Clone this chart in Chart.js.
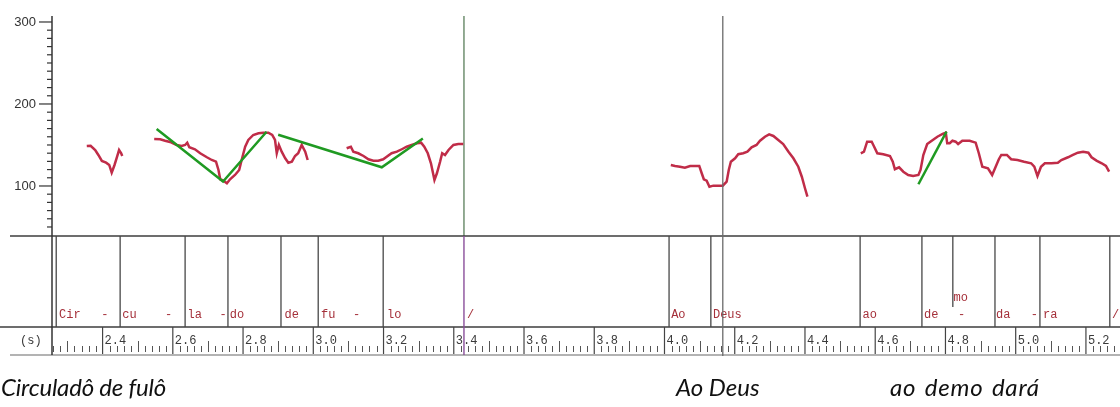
<!DOCTYPE html>
<html>
<head>
<meta charset="utf-8">
<script src="https://cdn.jsdelivr.net/npm/chart.js@4.4.1/dist/chart.umd.min.js"></script>
<style>
  html, body { margin: 0; padding: 0; background: #fff; }
  #wrap { position: relative; width: 1120px; height: 407px; overflow: hidden; }
  #c { position: absolute; left: 0; top: 0; }
  .cap { position: absolute; font-family: Lato, "Open Sans", sans-serif; font-style: italic;
         font-size: 24px; line-height: 1; color: #111; white-space: nowrap; }
</style>
</head>
<body>
<div id="wrap">
  <canvas id="c" width="1120" height="407"></canvas>
  <div class="cap" style="left:1px; top:375px; letter-spacing:-0.2px;">Circuladô de fulô</div>
  <div class="cap" style="left:676px; top:375px;">Ao Deus</div>
  <div class="cap" style="left:890px; top:375px; letter-spacing:0.8px; word-spacing:2px;">ao demo dará</div>
</div>
<script>
// Time window (s) and pitch range (Hz) of the panel
const X_MIN = 2.256, X_MAX = 5.297;
const HZ_MIN = 39, HZ_MAX = 307.3;

// Axis labels
const hzLabels = [100, 200, 300];
const timeLabels = ['2.4', '2.6', '2.8', '3.0', '3.2', '3.4', '3.6', '3.8', '4.0', '4.2', '4.4', '4.6', '4.8', '5.0', '5.2'];

// F0 contour pieces: [time s, Hz]
const f0Cir = [[2.355,148.8],[2.366,149.1],[2.379,143.9],[2.388,137.8],[2.398,130.5],[2.410,128.4],[2.419,125.6],
  [2.426,116.2],[2.434,125.6],[2.442,136.6],[2.447,143.9],[2.453,139.9],[2.456,136.6]];
const f0CuLaDoDe = [[2.547,157.3],[2.564,157.0],[2.578,155.2],[2.592,153.7],[2.611,150.0],[2.625,148.8],[2.635,150.0],
  [2.641,152.8],[2.647,147.2],[2.663,144.8],[2.678,139.9],[2.697,135.0],[2.711,131.7],[2.723,129.6],[2.730,119.5],
  [2.735,108.2],[2.744,106.5],[2.754,103.3],[2.763,108.2],[2.777,113.4],[2.789,119.5],[2.796,131.7],[2.806,147.9],
  [2.815,156.1],[2.829,162.2],[2.844,164.3],[2.858,165.0],[2.872,165.0],[2.883,162.2],[2.891,156.1],[2.896,139.9],
  [2.902,150.0],[2.910,141.8],[2.920,133.8],[2.929,128.4],[2.939,129.6],[2.948,136.6],[2.957,139.9],[2.967,150.0],
  [2.977,141.8],[2.984,131.7]];
const f0FuLo = [[3.095,146.0],[3.107,147.9],[3.114,141.8],[3.128,139.9],[3.143,136.6],[3.157,132.6],[3.171,130.9],
  [3.185,130.9],[3.199,132.6],[3.209,135.7],[3.223,139.9],[3.238,141.8],[3.252,144.8],[3.266,147.9],[3.280,150.0],
  [3.295,152.1],[3.307,152.8],[3.316,147.9],[3.326,139.9],[3.335,127.7],[3.345,107.3],[3.352,115.5],[3.361,129.6],
  [3.367,139.9],[3.375,137.8],[3.385,143.9],[3.399,150.0],[3.413,151.2],[3.427,151.2]];
const f0AoDeus = [[4.018,125.6],[4.030,124.4],[4.044,123.5],[4.058,122.3],[4.073,124.4],[4.087,124.4],[4.099,124.4],
  [4.106,115.5],[4.112,108.2],[4.120,106.5],[4.128,99.1],[4.139,100.4],[4.153,100.4],[4.166,100.4],[4.177,105.2],
  [4.183,119.5],[4.189,129.6],[4.201,133.8],[4.210,138.7],[4.224,139.9],[4.236,141.8],[4.248,147.2],[4.262,150.0],
  [4.272,155.2],[4.286,160.1],[4.298,163.0],[4.310,161.0],[4.324,156.1],[4.338,151.2],[4.353,141.8],[4.367,133.8],
  [4.381,123.5],[4.391,111.3],[4.400,97.2],[4.407,87.0]];
const f0AoDemoDara = [[4.559,139.9],[4.568,141.8],[4.577,154.0],[4.590,154.0],[4.596,148.8],[4.606,139.9],[4.623,138.7],
  [4.642,136.6],[4.650,129.6],[4.656,120.4],[4.668,122.8],[4.680,117.4],[4.694,113.4],[4.708,112.2],[4.723,113.4],
  [4.729,119.5],[4.737,137.8],[4.748,151.2],[4.761,155.2],[4.777,160.1],[4.792,163.4],[4.801,165.0],[4.805,152.1],
  [4.812,152.1],[4.820,155.2],[4.829,154.0],[4.836,151.2],[4.848,155.2],[4.869,155.2],[4.886,152.8],[4.895,139.9],
  [4.905,123.5],[4.921,121.6],[4.933,113.4],[4.943,123.5],[4.952,132.6],[4.959,137.8],[4.975,137.8],[4.987,132.6],
  [5.005,131.7],[5.024,129.6],[5.044,127.7],[5.053,123.5],[5.062,112.2],[5.072,123.5],[5.083,127.7],[5.102,127.7],
  [5.120,128.4],[5.130,131.7],[5.149,135.0],[5.163,137.8],[5.177,140.6],[5.192,141.8],[5.207,140.6],[5.216,135.0],
  [5.230,130.9],[5.245,127.7],[5.257,124.4],[5.266,117.4]];

// Stylised melodic movements
const styleCuLaDo = [[2.554,169.5],[2.743,105.5],[2.867,166.2]];
const styleDeFuLo = [[2.900,162.4],[3.195,122.8],[3.312,157.8]];
const styleDemo = [[4.723,102.1],[4.803,166.2]];

// Syllable tier
const tierBounds = [2.268, 2.450, 2.635, 2.757, 2.908, 3.014, 3.199, 4.013, 4.132, 4.557, 4.733, 4.941, 5.069, 5.268];
const selectedBound = 3.429;
const shortBound = 4.821;
const cursorTime = 4.166;
const tierTexts = [[2.276,'Cir'],[2.396,'-'],[2.456,'cu'],[2.578,'-'],[2.642,'la'],[2.733,'-'],[2.762,'do'],
  [2.918,'de'],[3.022,'fu'],[3.113,'-'],[3.210,'lo'],[3.438,'/'],[4.019,'Ao'],[4.138,'Deus'],[4.564,'ao'],
  [4.739,'de'],[4.836,'-'],[4.944,'da'],[5.043,'-'],[5.078,'ra'],[5.274,'/']];
const raisedTexts = [[4.823,'mo']];

const toXY = arr => arr.map(([x, y]) => ({ x, y }));
const contour = (data) => ({ data: toXY(data), borderColor: '#c02c48', borderWidth: 2.5, pointRadius: 0,
  fill: false, tension: 0, order: 1 });
const stylised = (data) => ({ data: toXY(data), borderColor: '#1f9a22', borderWidth: 2.5, pointRadius: 0,
  fill: false, tension: 0, order: 0 });

const PANEL_BOTTOM = 236, TIER_BOTTOM = 327, RULER_BOTTOM = 355;

const praatFrame = {
  id: 'praatFrame',
  beforeDatasetsDraw(chart) {
    const { ctx, chartArea, scales: { x } } = chart;
    ctx.save();
    ctx.strokeStyle = '#6f8f70';
    ctx.lineWidth = 1.5;
    const px = x.getPixelForValue(selectedBound);
    ctx.beginPath(); ctx.moveTo(px, chartArea.top); ctx.lineTo(px, PANEL_BOTTOM); ctx.stroke();
    ctx.restore();
  },
  afterDatasetsDraw(chart) {
    const { ctx, chartArea, scales: { x, y } } = chart;
    ctx.save();
    // frame lines
    ctx.strokeStyle = '#3c3c3c';
    ctx.lineWidth = 1.5;
    ctx.beginPath(); ctx.moveTo(10, PANEL_BOTTOM); ctx.lineTo(1120, PANEL_BOTTOM); ctx.stroke();
    ctx.beginPath(); ctx.moveTo(0, TIER_BOTTOM); ctx.lineTo(1120, TIER_BOTTOM); ctx.stroke();
    ctx.strokeStyle = '#9a9a9a';
    ctx.beginPath(); ctx.moveTo(10, RULER_BOTTOM); ctx.lineTo(1120, RULER_BOTTOM); ctx.stroke();
    ctx.strokeStyle = '#333';
    ctx.beginPath(); ctx.moveTo(chartArea.left, chartArea.top); ctx.lineTo(chartArea.left, RULER_BOTTOM); ctx.stroke();

    // Hz tick marks
    ctx.lineWidth = 1.2;
    for (let v = 50; v <= 300; v += 10) {
      const py = y.getPixelForValue(v);
      const major = hzLabels.includes(v);
      ctx.beginPath(); ctx.moveTo(major ? 39 : 47, py); ctx.lineTo(chartArea.left, py); ctx.stroke();
    }

    // tier boundaries
    ctx.strokeStyle = '#474747';
    ctx.lineWidth = 1.3;
    tierBounds.forEach(t => {
      const px = x.getPixelForValue(t);
      ctx.beginPath(); ctx.moveTo(px, PANEL_BOTTOM); ctx.lineTo(px, TIER_BOTTOM); ctx.stroke();
    });
    const sx = x.getPixelForValue(shortBound);
    ctx.beginPath(); ctx.moveTo(sx, PANEL_BOTTOM); ctx.lineTo(sx, 307); ctx.stroke();

    // tier labels
    ctx.font = '12px "Liberation Mono", monospace';
    ctx.fillStyle = '#a5303a';
    ctx.textAlign = 'left';
    ctx.textBaseline = 'alphabetic';
    tierTexts.forEach(([t, s]) => ctx.fillText(s, x.getPixelForValue(t), 318));
    raisedTexts.forEach(([t, s]) => ctx.fillText(s, x.getPixelForValue(t), 301));

    // time ruler
    ctx.strokeStyle = '#555';
    ctx.lineWidth = 1;
    const i0 = Math.ceil(X_MIN / 0.02), i1 = Math.floor(X_MAX / 0.02);
    for (let i = i0; i <= i1; i++) {
      if (i % 10 === 0) continue;
      const px = Math.round(x.getPixelForValue(i * 0.02)) + 0.5;
      ctx.beginPath(); ctx.moveTo(px, i % 5 === 0 ? 341 : 346); ctx.lineTo(px, 352); ctx.stroke();
    }
    ctx.strokeStyle = '#444';
    ctx.lineWidth = 1.2;
    ctx.fillStyle = '#3a3a3a';
    timeLabels.forEach(lbl => {
      const px = x.getPixelForValue(parseFloat(lbl));
      ctx.beginPath(); ctx.moveTo(px, TIER_BOTTOM); ctx.lineTo(px, RULER_BOTTOM - 1); ctx.stroke();
      ctx.fillText(lbl, px + 2, 344);
    });
    ctx.fillText('(s)', 20, 344);

    // selected boundary in tier and ruler
    ctx.strokeStyle = '#8a4f9a';
    ctx.lineWidth = 1.4;
    const bx = x.getPixelForValue(selectedBound);
    ctx.beginPath(); ctx.moveTo(bx, PANEL_BOTTOM); ctx.lineTo(bx, RULER_BOTTOM); ctx.stroke();

    // cursor
    ctx.strokeStyle = '#6a6a6a';
    ctx.lineWidth = 1.3;
    const cx = x.getPixelForValue(cursorTime);
    ctx.beginPath(); ctx.moveTo(cx, chartArea.top); ctx.lineTo(cx, RULER_BOTTOM + 1); ctx.stroke();
    ctx.restore();
  }
};

new Chart(document.getElementById('c'), {
  type: 'line',
  data: {
    datasets: [
      contour(f0Cir), contour(f0CuLaDoDe), contour(f0FuLo), contour(f0AoDeus), contour(f0AoDemoDara),
      stylised(styleCuLaDo), stylised(styleDeFuLo), stylised(styleDemo)
    ]
  },
  options: {
    responsive: false,
    animation: false,
    events: [],
    layout: { padding: { top: 16, bottom: 407 - PANEL_BOTTOM, left: 0, right: 0 } },
    plugins: { legend: { display: false }, tooltip: { enabled: false } },
    scales: {
      x: { type: 'linear', min: X_MIN, max: X_MAX, display: false },
      y: {
        min: HZ_MIN, max: HZ_MAX,
        afterFit: s => { s.width = 52; },
        afterBuildTicks: s => { s.ticks = hzLabels.map(v => ({ value: v })); },
        ticks: { font: { family: '"Liberation Sans", sans-serif', size: 13 }, color: '#333', padding: 0 },
        grid: { drawOnChartArea: false, drawTicks: true, tickLength: 16, tickColor: 'rgba(0,0,0,0)' },
        border: { display: false }
      }
    }
  },
  plugins: [praatFrame]
});
</script>
</body>
</html>
